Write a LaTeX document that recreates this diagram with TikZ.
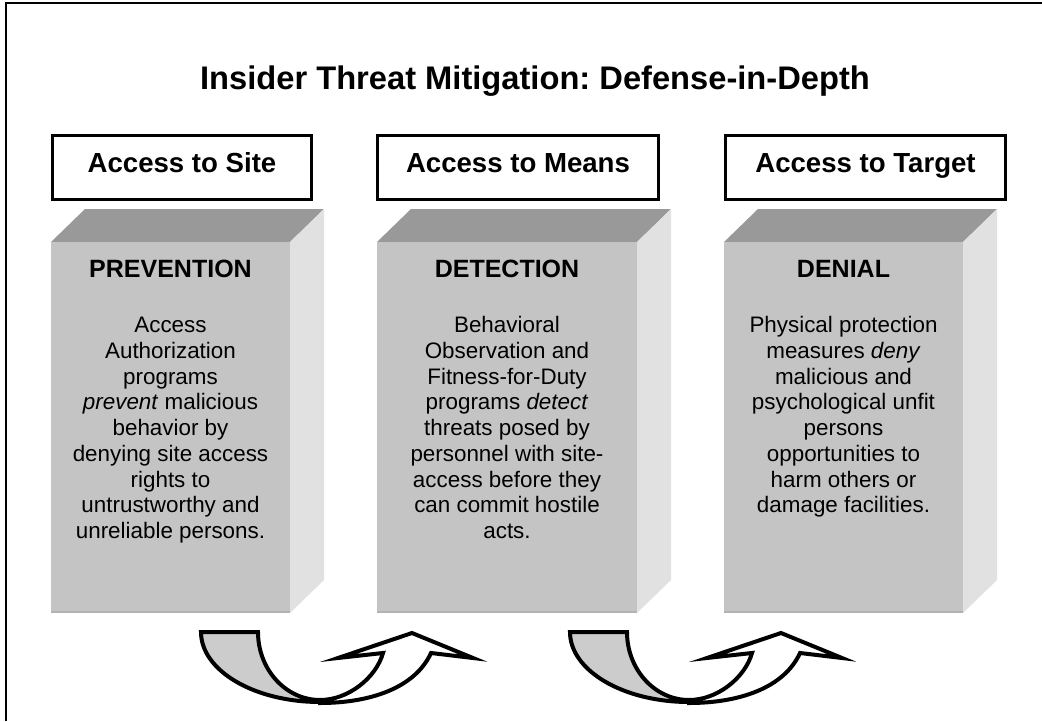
\documentclass[tikz,border=0pt]{standalone}
\usepackage{fontspec}
\setmainfont{Liberation Sans}
\usepackage{xcolor}
\usetikzlibrary{positioning}
\definecolor{frontgray}{RGB}{196,196,196}
\definecolor{topgray}{RGB}{153,153,153}
\definecolor{sidegray}{RGB}{225,225,225}
\definecolor{edgegray}{RGB}{178,178,178}
\definecolor{arrowgray}{RGB}{204,204,204}
\frenchspacing

\begin{document}
\begin{tikzpicture}[x=0.75pt,y=-0.75pt,
	headbox/.style={draw, line width=2.25pt, minimum height=48pt, text height=12pt, text depth=4.2pt,
		font=\bfseries\fontsize{20.7}{24}\selectfont},
	blocklabel/.style={anchor=base, inner sep=0pt, font=\bfseries\fontsize{18.75}{22}\selectfont},
	blocktext/.style={anchor=base, inner sep=0pt, align=center, font=\fontsize{16.8}{19.3}\selectfont},
	arrowline/.style={line width=3pt, line join=miter}]
	\useasboundingbox (0,0) rectangle (1042,721);
	\draw[line width=1.5pt] (6,721) -- (6,3) -- (1042,3);

	\node[anchor=base, font=\bfseries\fontsize{24.5}{29}\selectfont] (title) at (535,89) {Insider Threat Mitigation: Defense-in-Depth};

	\node[headbox, minimum width=194pt] (site) at (182,167.5) {Access to Site};
	\node[headbox, minimum width=210.75pt] (means) at (518,167.5) {Access to Means};
	\node[headbox, minimum width=210pt] (target) at (865.5,167.5) {Access to Target};

	% the three blocks
	\foreach \l/\r in {51/290, 377/637, 724/963} {
		\fill[topgray] (\l,242) -- (\l+34,209) -- (\r+34,209) -- (\r,242) -- cycle;
		\fill[sidegray] (\r,242) -- (\r+34,209) -- (\r+34,580) -- (\r,613) -- cycle;
		\fill[frontgray] (\l,242) rectangle (\r,613);
		\draw[edgegray, line width=1.2pt] (\l,612) -- (\r,612);
	}

	\node[blocklabel] (prevention) at (170.5,277) {PREVENTION};
	\node[blocklabel] (detection) at (507,277) {DETECTION};
	\node[blocklabel] (denial) at (843.5,277) {DENIAL};

	% base = last line, first line sits at y=333
	\node[blocktext] (preventiontext) at (170.5,538.6) {Access\\Authorization\\programs\\\textit{prevent} malicious\\behavior by\\denying site access\\rights to\\untrustworthy and\\unreliable persons.};
	\node[blocktext] (detectiontext) at (507,538.6) {Behavioral\\Observation and\\Fitness-for-Duty\\programs \textit{detect}\\threats posed by\\personnel with site-\\access before they\\can commit hostile\\acts.};
	\node[blocktext] (denialtext) at (843.5,512.9) {Physical protection\\measures \textit{deny}\\malicious and\\psychological unfit\\persons\\opportunities to\\harm others or\\damage facilities.};

	% turning arrows under the gaps
	\foreach \dx in {0,369} {
		\begin{scope}[xshift=\dx*0.75pt]
			\filldraw[arrowline, fill=arrowgray] (201,632) -- (258,632) .. controls (258,669.5) and (285.8,700) .. (320,700)
				-- (320,702) .. controls (254.3,702) and (201,670.6) .. (201,632) -- cycle;
			\filldraw[arrowline, fill=white] (320,700) .. controls (348,700) and (376,678) .. (383,653) -- (338,658)
				-- (412,633) -- (473,658) -- (431,653) .. controls (415,688) and (370,703) .. (320,703) -- cycle;
		\end{scope}
	}
\end{tikzpicture}
\end{document}
